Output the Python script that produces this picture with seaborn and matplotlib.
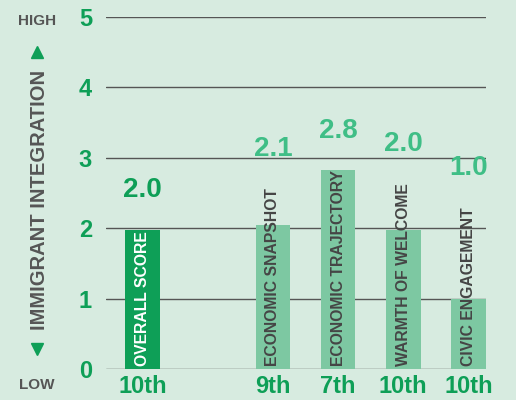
import matplotlib
matplotlib.use("Agg")
import matplotlib.pyplot as plt
import seaborn as sns
import pandas as pd

# chart data
categories = ["OVERALL SCORE", "ECONOMIC SNAPSHOT", "ECONOMIC TRAJECTORY",
              "WARMTH OF WELCOME", "CIVIC ENGAGEMENT"]
scores = [1.98, 2.05, 2.82, 1.98, 1.0]
score_labels = ["2.0", "2.1", "2.8", "2.0", "1.0"]
ranks = ["10th", "9th", "7th", "10th", "10th"]

BG = "#d7ebe0"
DARK = "#0e9f57"
LIGHT_BAR = "#7dc8a2"
LIGHT_TXT = "#3fbe86"
GRAY = "#555555"

sns.set_theme(style="white")
plt.rcParams["font.family"] = ["Liberation Sans", "DejaVu Sans"]

df = pd.DataFrame({"category": categories, "score": scores})
gap = " "
order = [categories[0], gap] + categories[1:]
palette = {c: LIGHT_BAR for c in categories}
palette[categories[0]] = DARK

fig = plt.figure(figsize=(5.16, 4.0), dpi=100, facecolor=BG)
ax = fig.add_axes([0.2054, 0.0775, 0.7365, 0.88])
ax.set_facecolor(BG)

sns.barplot(data=df, x="category", y="score", hue="category", order=order,
            palette=palette, width=0.53, saturation=1, legend=False,
            linewidth=0, ax=ax)

ax.set_ylim(0, 5)
ax.set_xlim(-0.56, 5.27)
for s in ax.spines.values():
    s.set_visible(False)
ax.yaxis.grid(True, color=GRAY, linewidth=1)
ax.set_axisbelow(True)
ax.set_yticks(range(6))
ax.tick_params(axis="y", length=0, pad=10, labelsize=17, labelcolor=DARK)
for t in ax.get_yticklabels():
    t.set_fontweight("bold")

xpos = [order.index(c) for c in categories]
ax.set_xticks(xpos)
ax.set_xticklabels(ranks, fontsize=17, fontweight="bold", color=DARK)
ax.tick_params(axis="x", length=0, pad=4)
ax.set_xlabel("")
ax.set_ylabel("")

# category names inside the bars
name_texts = []
for i, (c, x) in enumerate(zip(categories, xpos)):
    col = "white" if i == 0 else "#454545"
    t = ax.text(x, 0.04, c, rotation=90, ha="center", va="bottom",
                fontsize=11.3, fontweight="bold", color=col)
    name_texts.append(t)

fig.canvas.draw()
renderer = fig.canvas.get_renderer()
inv = ax.transData.inverted()
for i, (x, v, lab) in enumerate(zip(xpos, scores, score_labels)):
    bb = name_texts[i].get_window_extent(renderer)
    text_top = inv.transform((0, bb.y1))[1]
    top = max(v, text_top)
    col = DARK if i == 0 else LIGHT_TXT
    ax.annotate(lab, (x, top), xytext=(0, 19), textcoords="offset points",
                ha="center", va="bottom", fontsize=20, fontweight="bold",
                color=col, annotation_clip=False)

# y axis caption with arrows
fig.text(0.0756, 0.5, "IMMIGRANT INTEGRATION", rotation=90, ha="center",
         va="center", fontsize=14.5, fontweight="bold", color=GRAY)
fig.text(0.0717, 0.948, "HIGH", ha="center", va="center", fontsize=11,
         fontweight="bold", color=GRAY)
fig.text(0.0717, 0.037, "LOW", ha="center", va="center", fontsize=11,
         fontweight="bold", color=GRAY)
ax.plot([0.0717], [0.87], marker="^", markersize=9, color=DARK,
        transform=fig.transFigure, clip_on=False)
ax.plot([0.0717], [0.127], marker="v", markersize=9, color=DARK,
        transform=fig.transFigure, clip_on=False)

fig.savefig("out.png", dpi=100, facecolor=BG)
